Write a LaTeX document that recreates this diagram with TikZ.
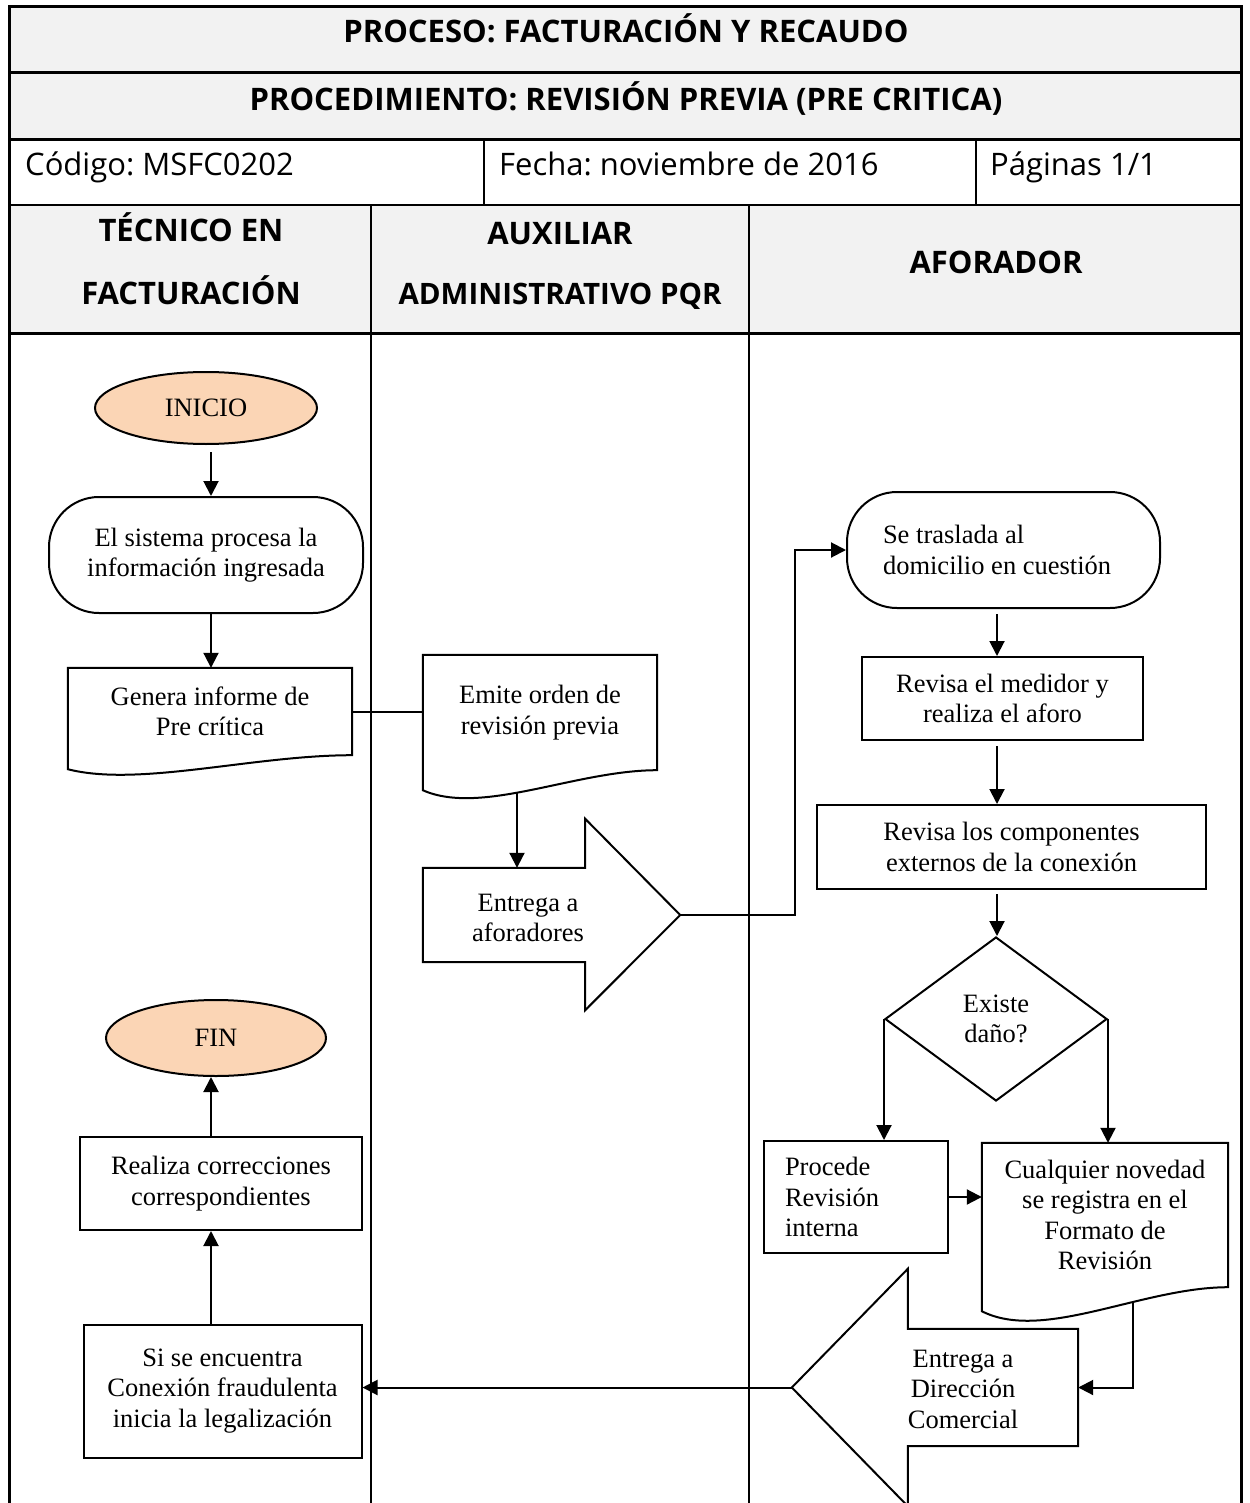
\documentclass[tikz,border=0pt]{standalone}
\usepackage{fontspec}
\setmainfont{Liberation Serif}
\newfontfamily\hdrfont{Open Sans}
\usetikzlibrary{arrows.meta,calc,shapes.geometric}
\frenchspacing

\definecolor{hdrgray}{RGB}{242,242,242}
\definecolor{peach}{RGB}{251,213,181}

% document symbol: flat top, wavy bottom (node, width, dip on the left side)
\newcommand\docwave[3]{%
  \draw[shp] (#1.north west) -- (#1.north east) -- (#1.south east)
    .. controls +(-0.35*#2,0) and +(0.25*#2,1.3*#3) .. ($(#1.south west)+(0,#3)$) -- cycle;}

\begin{document}
\begin{tikzpicture}[x=1pt,y=-1pt,
  frame/.style={line width=3pt},
  lane/.style={line width=1.8pt},
  shp/.style={draw, line width=2pt},
  term/.style={shp, rounded corners=50pt, minimum height=116},
  body/.style={font=\fontsize{26.5}{30.5}\selectfont, align=center, inner sep=0pt},
  hb/.style={font=\hdrfont\bfseries\fontsize{31}{36}\selectfont, inner sep=0pt},
  hn/.style={font=\hdrfont\fontsize{31}{36}\selectfont, inner sep=0pt},
  conn/.style={line width=2pt},
  arr/.style={conn, -{Triangle[length=15pt,width=15pt]}},
]
\useasboundingbox (0,0) rectangle (1249,1503);

% ---- header table ----
\fill[hdrgray] (9,7) rectangle (1241,140);
\fill[hdrgray] (9,205) rectangle (1241,333);
\draw[frame] (9,1503) -- (9,7) -- (1241,7) -- (1241,1503);
\draw[frame] (9,73) -- (1241,73);
\draw[frame] (9,140) -- (1241,140);
\draw[frame] (9,333) -- (1241,333);
\draw[lane, line width=2.2pt] (9,205) -- (1241,205);
\draw[lane] (484,140) -- (484,205);
\draw[lane] (976,140) -- (976,205);
\draw[lane] (371,205) -- (371,1503);
\draw[lane] (749,205) -- (749,1503);

\node[hb, anchor=base] (ttl) at (626,43) {PROCESO: FACTURACIÓN Y RECAUDO};
\node[hb, anchor=base] (prc) at (626,111) {PROCEDIMIENTO: REVISIÓN PREVIA (PRE CRITICA)};
\node[hn, anchor=base west] (cod) at (25,176) {Código: MSFC0202};
\node[hn, anchor=base west] (fec) at (499,176) {Fecha: noviembre de 2016};
\node[hn, anchor=base west] (pag) at (990,176) {Páginas 1/1};
\node[hb, anchor=base] (laneAa) at (191,242) {TÉCNICO EN};
\node[hb, anchor=base] (laneAb) at (191,305) {FACTURACIÓN};
\node[hb, anchor=base] (laneBa) at (560,245) {AUXILIAR};
\node[hb, anchor=base, font=\hdrfont\bfseries\fontsize{29.5}{36}\selectfont] (laneBb) at (560,305) {ADMINISTRATIVO PQR};
\node[hb, anchor=base] (laneC) at (996,274) {AFORADOR};

% ---- lane 1: técnico en facturación ----
\node[shp, ellipse, fill=peach, body, minimum width=222, minimum height=72] (ini) at (206,408) {INICIO};
\node[term, body, minimum width=314] (sis) at (206,555) {El sistema procesa la\\información ingresada};
\node[body, minimum width=284, minimum height=87] (gen) at (210,711.5) {Genera informe de\\Pre crítica};
\docwave{gen}{284}{14}
\node[shp, ellipse, fill=peach, body, minimum width=220, minimum height=76] (fin) at (216,1038) {FIN};
\node[shp, body, minimum width=282, minimum height=93] (real) at (221,1183.5) {Realiza correcciones\\correspondientes};
\node[shp, body, minimum width=278, minimum height=133] (si) at (222.5,1391) {Si se encuentra\\Conexión fraudulenta\\inicia la legalización};

% ---- lane 2: auxiliar administrativo ----
\node[body, minimum width=234, minimum height=115] (emi) at (540,712.5) {Emite orden de\\revisión previa};
\docwave{emi}{234}{20}
\node[minimum width=162, minimum height=94, inner sep=0pt] (ent) at (504,915) {};
\coordinate (enttip) at ($(ent.east)+(95,0)$);
\draw[shp] (ent.north west) -- (ent.north east) -- ++(0,-49) -- (enttip)
  -- ($(ent.south east)+(0,48)$) -- (ent.south east) -- (ent.south west) -- cycle;
\node[body] (entlbl) at (528,918) {Entrega a\\aforadores};

% ---- lane 3: aforador ----
\node[term, body, minimum width=313, text width=241, align=flush left] (tras) at (1003.5,550) {Se traslada al\\domicilio en cuestión};
\node[shp, body, minimum width=281, minimum height=83] (med) at (1002.5,698.5) {Revisa el medidor y\\realiza el aforo};
\node[shp, body, minimum width=389, minimum height=84] (comp) at (1011.5,847) {Revisa los componentes\\externos de la conexión};
\node[shp, diamond, body, minimum width=222, minimum height=164] (dia) at (996,1019) {Existe\\daño?};
\node[shp, body, minimum width=184, minimum height=112, text width=142, align=flush left] (proc) at (856,1197) {Procede\\Revisión\\interna};
\node[body, minimum width=246, minimum height=144] (cual) at (1105,1215) {Cualquier novedad\\se registra en el\\Formato de\\Revisión};
\docwave{cual}{246}{24}
\node[minimum width=170, minimum height=117, inner sep=0pt] (dir) at (993,1387.5) {};
\coordinate (dirtip) at ($(dir.west)+(-116,0)$);
\draw[shp] (dir.north east) -- (dir.north west) -- ++(0,-60) -- (dirtip)
  -- ($(dir.south west)+(0,60)$) -- (dir.south west) -- (dir.south east) -- cycle;
\node[body] (dirlbl) at (963,1389) {Entrega a\\Dirección\\Comercial};

% ---- connectors ----
\coordinate (colA) at (211,0);
\coordinate (colC) at (997,0);
\coordinate (bendx) at (795,0);
\coordinate (emiout) at (517,792);
\coordinate (cualout) at (1133,1301);

\draw[arr, shorten <=7pt] (ini.south -| colA) -- (sis.north -| colA);
\draw[arr] (sis.south -| colA) -- (gen.north -| colA);
\draw[conn] (gen.east) -- (gen.east -| emi.west);
\draw[arr] (emiout) -- (emiout |- ent.north);
\draw[arr] (enttip) -- (enttip -| bendx) |- (tras.west);
\draw[arr, shorten <=5pt] (tras.south -| colC) -- (med.north -| colC);
\draw[arr, shorten <=5pt] (med.south -| colC) -- (comp.north -| colC);
\draw[arr, shorten <=4pt] (comp.south -| colC) -- (dia.north -| colC);
\draw[arr] (dia.west) -- (dia.west |- proc.north);
\draw[arr] (dia.east) -- (dia.east |- cual.north);
\draw[arr] (proc.east) -- (proc.east -| cual.west);
\draw[arr] (cualout) |- (dir.east);
\draw[arr] (dirtip) -- (dirtip -| si.east);
\draw[arr] (si.north -| colA) -- (real.south -| colA);
\draw[arr] (real.north -| colA) -- (fin.south -| colA);
\end{tikzpicture}
\end{document}
